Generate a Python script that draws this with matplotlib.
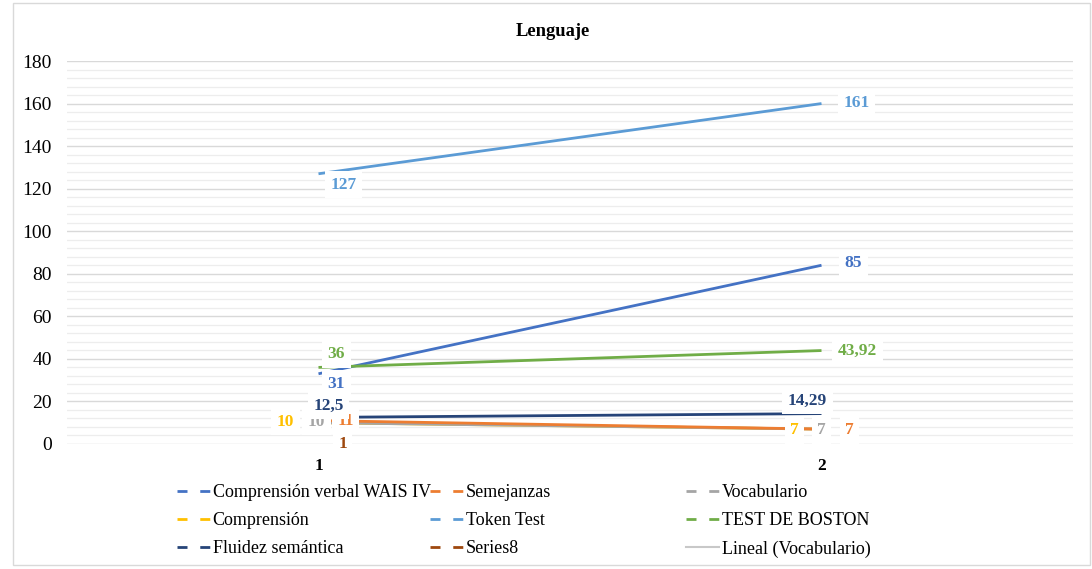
import matplotlib
matplotlib.use("Agg")
import matplotlib.pyplot as plt
from matplotlib.lines import Line2D
from matplotlib.patches import Rectangle
from matplotlib.transforms import offset_copy
import numpy as np

plt.rcParams['font.family'] = ['Liberation Serif', 'DejaVu Serif']

categories = ["1", "2"]
series_names = ["Comprensión verbal WAIS IV", "Semejanzas", "Vocabulario",
                "Comprensión", "Token Test", "TEST DE BOSTON",
                "Fluidez semántica", "Series8"]
comp_verbal = [33, 84]
semejanzas = [11, 7]
vocabulario = [10, 7]
comprension = [10, 7]
token_test = [127, 160]
boston = [36, 43.92]
fluidez = [12.5, 14.29]
series8 = [1]
label_comp_verbal = ["31", "85"]
label_semejanzas = ["11", "7"]
label_vocabulario = ["10", "7"]
label_comprension = ["10", "7"]
label_token = ["127", "161"]
label_boston = ["36", "43,92"]
label_fluidez = ["12,5", "14,29"]
label_series8 = ["1"]
yticks = [0, 20, 40, 60, 80, 100, 120, 140, 160, 180]

colors = ["#4472C4", "#ED7D31", "#A5A5A5", "#FFC000", "#5B9BD5", "#70AD47",
          "#264478", "#9E480E"]
trend_color = "#C8C8C8"

fig = plt.figure(figsize=(10.92, 5.69), dpi=100)
ax = fig.add_axes([67/1092, 1-444/569, (1073-67)/1092, (444-61)/569])
ax.set_xlim(0, 2)
ax.set_ylim(0, 180)
xs = np.array([0.5, 1.5])

# grid
for v in np.arange(0, 181, 4):
    major = (v % 20 == 0)
    ax.axhline(v, color="#D9D9D9" if major else "#EDEDED", lw=1.0 if major else 0.9, zorder=0)

data = [comp_verbal, semejanzas, vocabulario, comprension, token_test, boston, fluidez, series8]
labels = [label_comp_verbal, label_semejanzas, label_vocabulario, label_comprension,
          label_token, label_boston, label_fluidez, label_series8]

# trendline (Vocabulario)
ax.plot(xs, vocabulario, color=trend_color, lw=1.2, zorder=1)
order = [3, 2, 1, 0, 4, 5, 6, 7]
for i in order:
    d = data[i]
    ax.plot(xs[:len(d)], d, color=colors[i], lw=2.0, zorder=2, solid_capstyle='butt')

# label offsets in pixels (dx, dy)
offs = {
    0: [(18, -10), (32, 2)],
    1: [(27, 0), (28, -1)],
    2: [(-2, 1), (0, -1)],
    3: [(-33, 1), (-27, -1)],
    4: [(25, -11), (35, 1)],
    5: [(18, 13), (36, 0)],
    6: [(10, 12), (-14, 13)],
    7: [(24, -2)],
}
for i in range(8):
    d = data[i]
    for j, v in enumerate(d):
        dx, dy = offs[i][j]
        tr = offset_copy(ax.transData, fig=fig, x=dx, y=dy, units='dots')
        ax.text(xs[j], v, labels[i][j], transform=tr, ha='center', va='center',
                color=colors[i], fontsize=12.5, fontweight='bold', zorder=5,
                bbox=dict(facecolor='white', edgecolor='none', pad=4))

ax.set_xticks(xs)
ax.set_xticklabels(categories, fontweight='bold', fontsize=12.5)
ax.set_yticks(yticks)
ax.set_yticklabels([str(v) for v in yticks], fontsize=14)
ax.tick_params(axis='both', length=0)
ax.tick_params(axis='y', pad=11)
ax.tick_params(axis='x', pad=10)
for s in ax.spines.values():
    s.set_visible(False)

fig.text(553/1092, 1-31/569, "Lenguaje", ha='center', va='center',
         fontsize=13.3, fontweight='bold')

# legend (3 columns)
legend_names = series_names + ["Lineal (Vocabulario)"]
legend_colors = colors + [trend_color]
handles = []
for k in range(9):
    ls = '-' if k == 8 else (0, (3.6, 4.6))
    handles.append(Line2D([], [], color=legend_colors[k], lw=2.0 if k < 8 else 1.5, linestyle=ls))
col_x = [177/1092, 430/1092, 686/1092]
for c in range(3):
    idx = [c, c + 3, c + 6]
    fig.legend([handles[k] for k in idx], [legend_names[k] for k in idx],
               loc='upper left', bbox_to_anchor=(col_x[c], 1-484/569),
               frameon=False, fontsize=13, handlelength=1.85, handletextpad=0.12,
               labelspacing=0.62, borderpad=0, borderaxespad=0)

fig.patches.append(Rectangle((13/1092, 4/569), 1077/1092, 562/569, transform=fig.transFigure,
                             fill=False, edgecolor="#D9D9D9", lw=1))
fig.savefig("out.png", dpi=100)
